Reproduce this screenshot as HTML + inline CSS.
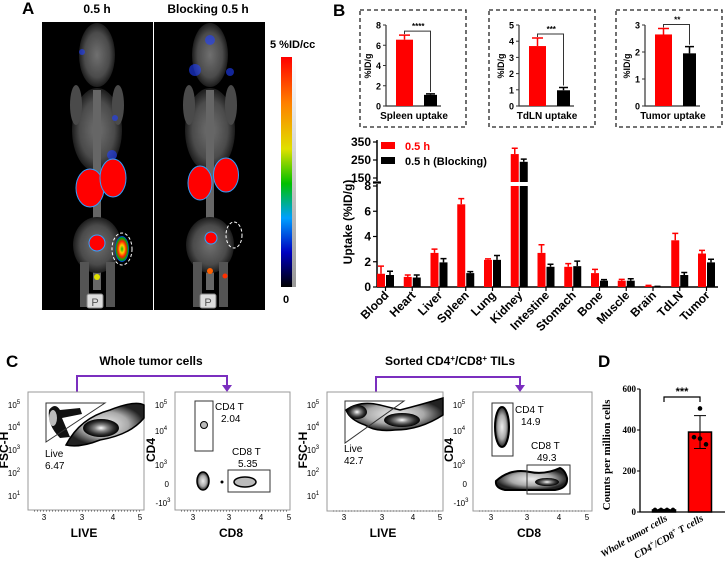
<!DOCTYPE html>
<html><head><meta charset="utf-8"><style>
body{margin:0;background:#fff}
svg{display:block;font-family:"Liberation Sans",Arial,sans-serif}
.b{font-weight:bold}
</style></head><body>
<svg id="fig" width="725" height="570" viewBox="0 0 725 570">
<defs>
<linearGradient id="cbar" x1="0" y1="0" x2="0" y2="1">
<stop offset="0" stop-color="#ff0000"/><stop offset="0.2" stop-color="#ff8000"/><stop offset="0.4" stop-color="#e0e000"/><stop offset="0.55" stop-color="#00c000"/><stop offset="0.7" stop-color="#00a0ff"/><stop offset="0.85" stop-color="#0000c0"/><stop offset="1" stop-color="#000"/></linearGradient>
<linearGradient id="gbar" x1="0" y1="0" x2="0" y2="1"><stop offset="0" stop-color="#fff"/><stop offset="1" stop-color="#333"/></linearGradient>
<radialGradient id="blob"><stop offset="0" stop-color="#fff"/><stop offset="0.35" stop-color="#888"/><stop offset="0.7" stop-color="#333"/><stop offset="1" stop-color="#000"/></radialGradient>
<radialGradient id="blob2"><stop offset="0" stop-color="#eee"/><stop offset="0.6" stop-color="#aaa"/><stop offset="1" stop-color="#222"/></radialGradient>
<radialGradient id="tum"><stop offset="0" stop-color="#00c000"/><stop offset="0.3" stop-color="#ffd000"/><stop offset="0.6" stop-color="#ff2000"/><stop offset="0.85" stop-color="#00b000"/><stop offset="1" stop-color="#0030ff"/></radialGradient>
<radialGradient id="bone"><stop offset="0" stop-color="#ccc"/><stop offset="0.7" stop-color="#888"/><stop offset="1" stop-color="#333"/></radialGradient>
</defs>

<!-- PANEL A -->
<g>
<text x="22" y="14" font-size="17" class="b">A</text>
<text x="97" y="13" font-size="12" class="b" text-anchor="middle">0.5 h</text>
<text x="208" y="13" font-size="12" class="b" text-anchor="middle">Blocking 0.5 h</text>
<rect x="42" y="22" width="223" height="288" fill="#000"/>
<line x1="153.5" y1="22" x2="153.5" y2="310" stroke="#fff" stroke-width="1"/>
<g opacity="0.55">
<ellipse cx="97" cy="55" rx="18" ry="32" fill="url(#bone)"/><ellipse cx="97" cy="130" rx="25" ry="42" fill="url(#bone)"/>
<rect x="93" y="90" width="8" height="200" fill="#bbb"/><ellipse cx="97" cy="245" rx="24" ry="28" fill="url(#bone)"/>
<rect x="80" y="262" width="9" height="45" fill="#999"/><rect x="106" y="262" width="9" height="45" fill="#999"/>
<ellipse cx="76" cy="105" rx="6" ry="20" fill="#888"/><ellipse cx="118" cy="105" rx="6" ry="20" fill="#888"/>
</g>
<g opacity="0.55">
<ellipse cx="210" cy="55" rx="18" ry="32" fill="url(#bone)"/><ellipse cx="210" cy="130" rx="25" ry="42" fill="url(#bone)"/>
<rect x="206" y="90" width="8" height="200" fill="#bbb"/><ellipse cx="210" cy="245" rx="24" ry="28" fill="url(#bone)"/>
<rect x="193" y="262" width="9" height="45" fill="#999"/><rect x="219" y="262" width="9" height="45" fill="#999"/>
<ellipse cx="189" cy="105" rx="6" ry="20" fill="#888"/><ellipse cx="231" cy="105" rx="6" ry="20" fill="#888"/>
</g>
<g fill="#2040ff" opacity="0.6"><circle cx="82" cy="52" r="3"/><circle cx="115" cy="118" r="3"/><circle cx="112" cy="155" r="5"/><circle cx="195" cy="70" r="6"/><circle cx="230" cy="72" r="4"/><circle cx="210" cy="40" r="5"/></g>
<ellipse cx="90" cy="188" rx="14" ry="19" fill="#ff0000" stroke="#30a0ff" stroke-width="1"/>
<ellipse cx="113" cy="178" rx="13" ry="19" fill="#ff0000" stroke="#30a0ff" stroke-width="1"/>
<circle cx="97" cy="243" r="8" fill="#ff0000" stroke="#30a0ff"/>
<ellipse cx="122" cy="249" rx="7" ry="13" fill="url(#tum)"/>
<ellipse cx="122" cy="249" rx="10" ry="16" fill="none" stroke="#fff" stroke-dasharray="3,2"/>
<circle cx="97" cy="277" r="3" fill="#e0e000"/>
<ellipse cx="200" cy="183" rx="12" ry="17" fill="#ff0000" stroke="#30a0ff"/>
<ellipse cx="226" cy="175" rx="12.5" ry="17" fill="#ff0000" stroke="#30a0ff"/>
<circle cx="211" cy="238" r="6" fill="#ff0000" stroke="#30a0ff"/>
<ellipse cx="234" cy="235" rx="8" ry="13" fill="none" stroke="#fff" stroke-dasharray="3,2"/>
<circle cx="210" cy="271" r="3" fill="#ff6000"/><circle cx="225" cy="276" r="2.5" fill="#ff3000"/>
<rect x="87" y="294" width="16" height="14" rx="2" fill="#ddd" stroke="#888"/><text x="95" y="306" font-size="11" text-anchor="middle" fill="#555">P</text>
<rect x="200" y="294" width="16" height="14" rx="2" fill="#ddd" stroke="#888"/><text x="208" y="306" font-size="11" text-anchor="middle" fill="#555">P</text>
<text x="270" y="48" font-size="11" class="b">5 %ID/cc</text>
<rect x="281" y="57" width="11" height="230" fill="url(#cbar)"/>
<rect x="292" y="57" width="4" height="230" fill="url(#gbar)" opacity="0.5"/>
<text x="283" y="303" font-size="11" class="b">0</text>
</g>

<!-- PANEL B -->
<text x="333" y="16" font-size="17" class="b">B</text>
<g id="insets"></g>
<g id="mainB"></g>

<!-- PANEL C -->
<g>
<text x="6" y="367" font-size="17" class="b">C</text>
<text x="151" y="365" font-size="12" class="b" text-anchor="middle">Whole tumor cells</text>
<text x="450" y="365" font-size="12" class="b" text-anchor="middle">Sorted CD4<tspan font-size="8" dy="-4">+</tspan><tspan dy="4">/CD8</tspan><tspan font-size="8" dy="-4">+</tspan><tspan dy="4"> TILs</tspan></text>
<path d="M77,392 V376 H227 V386" fill="none" stroke="#7b2fbf" stroke-width="2"/>
<path d="M222,385 L232,385 L227,392 Z" fill="#7b2fbf"/>
<path d="M376,392 V377 H520 V386" fill="none" stroke="#7b2fbf" stroke-width="2"/>
<path d="M515,385 L525,385 L520,392 Z" fill="#7b2fbf"/>

<g>
<rect x="28" y="392" width="116" height="118" fill="#fff" stroke="#999"/>
<path d="M66,445 Q80,418 110,410 Q135,400 144,405 L144,418 Q130,435 100,440 Q80,448 66,445Z" fill="url(#blob2)" stroke="#000" stroke-width="1.5"/>
<ellipse cx="101" cy="428" rx="18" ry="9" fill="url(#blob)"/>
<path d="M49,410 Q55,402 60,410 L80,408 L82,414 L62,418 L70,437 L60,438 Q47,425 49,410Z" fill="#111"/>
<ellipse cx="53" cy="418" rx="4" ry="8" fill="#bbb"/>
<path d="M46,403 L105,403 L46,442 Z" fill="none" stroke="#333"/>
<text x="45" y="457" font-size="10">Live</text><text x="45" y="469" font-size="10">6.47</text>
</g>
<g>
<rect x="175" y="392" width="115" height="118" fill="#fff" stroke="#999"/>
<rect x="195" y="401" width="18" height="50" fill="none" stroke="#333"/>
<circle cx="204" cy="425" r="3.5" fill="#bbb" stroke="#000"/>
<ellipse cx="203" cy="481" rx="6" ry="9" fill="url(#blob2)" stroke="#000" stroke-width="1.5"/>
<circle cx="222" cy="482" r="1.5" fill="#000"/>
<ellipse cx="245" cy="482" rx="11" ry="5" fill="#bbb" stroke="#000" stroke-width="1.5"/>
<rect x="228" y="470" width="42" height="22" fill="none" stroke="#333"/>
<text x="215" y="410" font-size="10">CD4 T</text><text x="221" y="422" font-size="10">2.04</text>
<text x="232" y="455" font-size="10">CD8 T</text><text x="238" y="467" font-size="10">5.35</text>
</g>
<g>
<rect x="327" y="392" width="116" height="119" fill="#fff" stroke="#999"/>
<path d="M346,410 Q360,400 380,405 L400,410 Q420,405 443,398 L443,415 Q420,430 395,430 Q375,432 365,425 Q350,420 346,410Z" fill="url(#blob2)" stroke="#000" stroke-width="1.5"/>
<ellipse cx="402" cy="420" rx="18" ry="7" fill="url(#blob)"/>
<ellipse cx="357" cy="412" rx="10" ry="7" fill="url(#blob)"/>
<path d="M345,401 L404,401 L345,443 Z" fill="none" stroke="#333"/>
<text x="344" y="452" font-size="10">Live</text><text x="344" y="464" font-size="10">42.7</text>
</g>
<g>
<rect x="473" y="392" width="119" height="119" fill="#fff" stroke="#999"/>
<rect x="492" y="403" width="21" height="53" fill="none" stroke="#333"/>
<ellipse cx="502" cy="427" rx="7" ry="20" fill="url(#blob2)" stroke="#000" stroke-width="2"/>
<path d="M496,481 Q510,468 530,472 Q545,475 560,468 Q565,470 567,478 Q568,488 555,490 L505,490 Q495,488 496,481Z" fill="url(#blob2)" stroke="#000" stroke-width="2"/>
<ellipse cx="547" cy="482" rx="12" ry="4" fill="url(#blob)"/>
<rect x="527" y="465" width="43" height="29" fill="none" stroke="#333"/>
<text x="515" y="413" font-size="10">CD4 T</text><text x="521" y="425" font-size="10">14.9</text>
<text x="531" y="449" font-size="10">CD8 T</text><text x="537" y="461" font-size="10">49.3</text>
</g>
<g id="flowaxes"></g>
</g>

<!-- PANEL D -->
<text x="598" y="367" font-size="17" class="b">D</text>
<g id="panelD"></g>
</svg>

<script>
// ---- Panel B main chart data ----
const organs = ["Blood","Heart","Liver","Spleen","Lung","Kidney","Intestine","Stomach","Bone","Muscle","Brain","TdLN","Tumor"];
const uptake05 = [1.05,0.8,2.7,6.55,2.15,283,2.7,1.6,1.1,0.5,0.08,3.7,2.65];
const err05 = [0.6,0.15,0.3,0.45,0.08,32,0.65,0.25,0.3,0.1,0.05,0.55,0.25];
const uptakeBlock = [0.95,0.75,1.95,1.1,2.15,240,1.6,1.65,0.5,0.5,0.03,0.95,1.95];
const errBlock = [0.3,0.2,0.3,0.12,0.35,15,0.2,0.4,0.08,0.15,0.02,0.2,0.25];
const lowTicks = [0,2,4,6,8];
const highTicks = [150,250,350];
// ---- Insets ----
const insetNames = ["Spleen uptake","TdLN uptake","Tumor uptake"];
const insetRed = [6.55,3.7,2.65];
const insetRedErr = [0.45,0.5,0.22];
const insetBlack = [1.1,0.97,1.95];
const insetBlackErr = [0.1,0.17,0.25];
const insetMax = [8,5,3];
const insetTicks = [[0,2,4,6,8],[0,1,2,3,4,5],[0,1,2,3]];
const insetSig = ["****","***","**"];
// ---- Panel D ----
const dGroups = ["Whole tumor cells","CD4+/CD8+ T cells"];
const dMeans = [10,390];
const dErr = [3,80];
const dPoints = [[10,10,10,10],[505,365,358,330]];
const dTicks = [0,200,400,600];

const NS="http://www.w3.org/2000/svg";
function mk(parent,tag,attrs,txt){const e=document.createElementNS(NS,tag);for(const k in attrs)e.setAttribute(k,attrs[k]);if(txt!==undefined)e.textContent=txt;parent.appendChild(e);return e;}

(function(){
const g=document.getElementById('mainB');
const ax=377, y0=287, y8=186, xEnd=718;
const yLow=v=>y0-v*(y0-y8)/8;
const yHigh=v=>178-(v-150)*0.18;
const xC=i=>385.5+i*26.75;
const bw=8;
let l=mk(g,'path',{d:`M${ax},${y0} V${y8-2} M${ax},181 V140 M${ax},${y0} H${xEnd}`,stroke:'#000','stroke-width':1.5,fill:'none'});

mk(g,'path',{d:`M${ax-4},${y8-3} h8 M${ax-4},${182} h8`,stroke:'#000','stroke-width':1.2});
lowTicks.forEach(t=>{const y=yLow(t);mk(g,'line',{x1:ax-4,x2:ax,y1:y,y2:y,stroke:'#000','stroke-width':1.2});
 const tx=mk(g,'text',{x:ax-6,y:y+4,'font-size':12,'font-weight':'bold','text-anchor':'end'},t);
 });
highTicks.forEach(t=>{const y=yHigh(t);mk(g,'line',{x1:ax-4,x2:ax,y1:y,y2:y,stroke:'#000','stroke-width':1.2});
 const tx=mk(g,'text',{x:ax-6,y:y+4,'font-size':12,'font-weight':'bold','text-anchor':'end'},t);
 });
const yl=mk(g,'text',{x:0,y:0,transform:'translate(352,222) rotate(-90)','font-size':12,'font-weight':'bold','text-anchor':'middle'},'Uptake (%ID/g)');

function bar(x,v,e,col){
 if(v>8){
  mk(g,'rect',{x:x,y:y8,width:bw,height:y0-y8,fill:col});
  mk(g,'rect',{x:x,y:yHigh(v),width:bw,height:182-yHigh(v),fill:col});
  const te=yHigh(v+e);mk(g,'path',{d:`M${x+bw/2},${yHigh(v)} V${te} M${x+1},${te} h${bw-2}`,stroke:col,'stroke-width':1.5});
 } else {
  mk(g,'rect',{x:x,y:yLow(v),width:bw,height:y0-yLow(v),fill:col});
  const te=yLow(v+e);mk(g,'path',{d:`M${x+bw/2},${yLow(v)} V${te} M${x+1},${te} h${bw-2}`,stroke:col,'stroke-width':1.5});
 }
}
organs.forEach((o,i)=>{
 const c=xC(i);
 bar(c-bw-0.5,uptake05[i],err05[i],'#ff0000');
 bar(c+0.5,uptakeBlock[i],errBlock[i],'#000');
 mk(g,'line',{x1:c,x2:c,y1:y0,y2:y0+4,stroke:'#000','stroke-width':1.2});
 const t=mk(g,'text',{x:0,y:0,transform:`translate(${c+4},${y0+9}) rotate(-45)`,'font-size':12,'font-weight':'bold','text-anchor':'end'},o);
 
});
mk(g,'rect',{x:381,y:142,width:14,height:7,fill:'#ff0000'});
const lg1=mk(g,'text',{x:405,y:150,'font-size':11,'font-weight':'bold',fill:'#ff0000'},'0.5 h');

mk(g,'rect',{x:381,y:157,width:14,height:7,fill:'#000'});
const lg2=mk(g,'text',{x:405,y:165,'font-size':11,'font-weight':'bold'},'0.5 h (Blocking)');

})();

(function(){
const g=document.getElementById('insets');
const boxX=[360,489,616], axX=[386,519,645];
insetNames.forEach((nm,k)=>{
 const bx=mk(g,'rect',{x:boxX[k],y:10,width:106,height:117,fill:'none',stroke:'#222','stroke-dasharray':'4,3','stroke-width':1.3});
 
 const ax=axX[k], y0=106, yt=25, m=insetMax[k];
 const Y=v=>y0-v*(y0-yt)/m;
 mk(g,'path',{d:`M${ax},${yt} V${y0} H${ax+55}`,stroke:'#333','stroke-width':1.2,fill:'none'});
 insetTicks[k].forEach(t=>{mk(g,'line',{x1:ax-3,x2:ax,y1:Y(t),y2:Y(t),stroke:'#333'});
  mk(g,'text',{x:ax-5,y:Y(t)+3.5,'font-size':9,'font-weight':'bold','text-anchor':'end'},t);});
 const rx=ax+10, bxk=ax+38, w=17;
 const r1=mk(g,'rect',{x:rx,y:Y(insetRed[k]),width:w,height:y0-Y(insetRed[k]),fill:'#ff0000'});
 
 mk(g,'path',{d:`M${rx+w/2},${Y(insetRed[k])} V${Y(insetRed[k]+insetRedErr[k])} M${rx+3},${Y(insetRed[k]+insetRedErr[k])} h${w-6}`,stroke:'#ff0000','stroke-width':1.5});
 const r2=mk(g,'rect',{x:bxk,y:Y(insetBlack[k]),width:w-4,height:y0-Y(insetBlack[k]),fill:'#000'});
 
 mk(g,'path',{d:`M${bxk+(w-4)/2},${Y(insetBlack[k])} V${Y(insetBlack[k]+insetBlackErr[k])} M${bxk+2},${Y(insetBlack[k]+insetBlackErr[k])} h${w-8}`,stroke:'#000','stroke-width':1.5});
 const by=Y(Math.max(insetRed[k]+insetRedErr[k],insetBlack[k]+insetBlackErr[k]))-4;
 const byy=Math.max(by,23);
 mk(g,'path',{d:`M${rx+w/2},${byy+3} V${byy} H${bxk+(w-4)/2} V${Y(insetBlack[k]+insetBlackErr[k])-2}`,stroke:'#333',fill:'none'});
 mk(g,'text',{x:(rx+bxk+w/2)/2+4,y:byy-2,'font-size':8,'font-weight':'bold','text-anchor':'middle'},insetSig[k]);
 const yl=mk(g,'text',{x:0,y:0,transform:`translate(${ax-15},66) rotate(-90)`,'font-size':9,'font-weight':'bold','text-anchor':'middle'},'%ID/g');
 
 const xl=mk(g,'text',{x:ax+28,y:119,'font-size':10,'font-weight':'bold','text-anchor':'middle'},nm);
 
});
})();

(function(){
const g=document.getElementById('flowaxes');
const plots=[{x:28,type:'fsc',xl:'LIVE',xs:[44,82,113,140]},{x:175,type:'cd4',xl:'CD8',xs:[193,229,261,289]},{x:327,type:'fsc',xl:'LIVE',xs:[344,382,413,440]},{x:473,type:'cd4',xl:'CD8',xs:[491,527,559,587]}];
plots.forEach(p=>{
 const ys=p.type==='fsc'?[[405,'5'],[427,'4'],[450,'3'],[473,'2'],[496,'1']]:[[405,'5'],[431,'4'],[465,'3']];
 ys.forEach(([y,e])=>{const t=mk(g,'text',{x:p.x-14,y:y+3,'font-size':8,'text-anchor':'middle'},'10');mk(t,'tspan',{dy:-4,'font-size':6},e);});
 if(p.type==='cd4'){mk(g,'text',{x:p.x-6,y:487,'font-size':8,'text-anchor':'end'},'0');const t=mk(g,'text',{x:p.x-12,y:506,'font-size':8,'text-anchor':'middle'},'-10');mk(t,'tspan',{dy:-4,'font-size':6},'3');}
 ['3','3','4','5'].forEach((s,i)=>mk(g,'text',{x:p.xs[i],y:520,'font-size':8,'text-anchor':'middle'},s));
 mk(g,'path',{d:`M${p.x+6},511 H${p.x+112}`,stroke:'#555','stroke-dasharray':'1,2'});
 const yt=mk(g,'text',{x:0,y:0,transform:`translate(${p.x-20},450) rotate(-90)`,'font-size':12,'font-weight':'bold','text-anchor':'middle'},p.type==='fsc'?'FSC-H':'CD4');
 
 const xt=mk(g,'text',{x:p.x+56,y:537,'font-size':12,'font-weight':'bold','text-anchor':'middle'},p.xl);
 
});
})();

(function(){
const g=document.getElementById('panelD');
const ax=640, y0=512, Y=v=>y0-v*(y0-430)/400;
const xc=[664,700], bw=23;
mk(g,'path',{d:`M${ax},${Y(600)} V${y0} H${725}`,stroke:'#000','stroke-width':1.3,fill:'none'});
dTicks.forEach(t=>{mk(g,'line',{x1:ax-3,x2:ax,y1:Y(t),y2:Y(t),stroke:'#000'});
 mk(g,'text',{x:ax-4,y:Y(t)+3,'font-size':9,'font-weight':'bold','text-anchor':'end','font-family':'Liberation Serif,serif'},t);});
dGroups.forEach((nm,i)=>{
 const col=i===0?'#000':'#ff0000';
 const r=mk(g,'rect',{x:xc[i]-bw/2,y:Y(dMeans[i]),width:bw,height:y0-Y(dMeans[i]),fill:col,stroke:'#000','stroke-width':1.5});
 
 const hi=Y(dMeans[i]+dErr[i]), lo=Y(dMeans[i]-dErr[i]);
 mk(g,'path',{d:`M${xc[i]},${hi} V${lo} M${xc[i]-6},${hi} h12 M${xc[i]-6},${lo} h12`,stroke:'#000','stroke-width':1});
 dPoints[i].forEach((v,j)=>{const off=i===0?(j-1.5)*6:[0,-6,0,6][j];
  const c=mk(g,'circle',{cx:xc[i]+off,cy:Y(v),r:2.3,fill:'#000'});
  });
 const lab=mk(g,'text',{x:0,y:0,transform:`translate(${xc[i]+4},${y0+8}) rotate(-30)`,'font-size':10,'font-weight':'bold','font-style':'italic','text-anchor':'end','font-family':'Liberation Serif,serif'},i===0?'Whole tumor cells':'');
 if(i===1){lab.textContent='CD4';mk(lab,'tspan',{dy:-4,'font-size':7},'+');mk(lab,'tspan',{dy:4},'/CD8');mk(lab,'tspan',{dy:-4,'font-size':7},'+');mk(lab,'tspan',{dy:4},' T cells');}
 
});
mk(g,'path',{d:`M${xc[0]},402 V397 H${xc[1]} V402`,stroke:'#000',fill:'none','stroke-width':1.2});
mk(g,'text',{x:(xc[0]+xc[1])/2,y:395,'font-size':11,'font-weight':'bold','text-anchor':'middle'},'***');
const yl=mk(g,'text',{x:0,y:0,transform:'translate(610,455) rotate(-90)','font-size':11,'font-weight':'bold','text-anchor':'middle','font-family':'Liberation Serif,serif'},'Counts per million cells');

})();
</script>
</body></html>
